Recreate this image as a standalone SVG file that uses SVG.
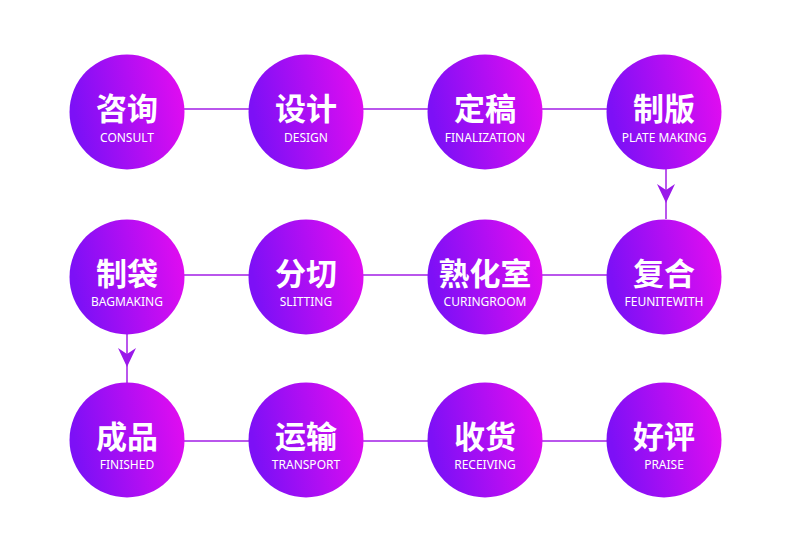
<svg xmlns="http://www.w3.org/2000/svg" width="790" height="547" viewBox="0 0 790 547">
<defs>
<linearGradient id="g" x1="0" y1="0.3" x2="1" y2="0.1">
<stop offset="0" stop-color="#7d10f6"/>
<stop offset="1" stop-color="#e60cf0"/>
</linearGradient>
<style>
.c{fill:url(#g)}
.cn{font-family:"Noto Sans CJK SC",sans-serif;font-weight:700;font-size:31px;fill:#fff;text-anchor:middle}
.en{font-family:"Noto Sans","Open Sans",sans-serif;font-size:12px;fill:#fff;text-anchor:middle}
.ln{stroke:#a21ee6;stroke-width:1.5;fill:none}
.ah{fill:#9a18ea}
</style>
</defs>
<rect width="790" height="547" fill="#fff"/>
<g id="connectors">
<line class="ln" x1="180" y1="109" x2="255" y2="109"/>
<line class="ln" x1="360" y1="109" x2="430" y2="109"/>
<line class="ln" x1="540" y1="109" x2="610" y2="109"/>
<line class="ln" x1="666" y1="168" x2="666" y2="219"/>
<path class="ah" d="M657,184 L666,190 L675,184 L666,203 Z"/>
<line class="ln" x1="180" y1="275" x2="255" y2="275"/>
<line class="ln" x1="360" y1="275" x2="430" y2="275"/>
<line class="ln" x1="540" y1="275" x2="610" y2="275"/>
<line class="ln" x1="127" y1="333" x2="127" y2="383"/>
<path class="ah" d="M118,348 L127,354 L136,348 L127,367 Z"/>
<line class="ln" x1="180" y1="441" x2="255" y2="441"/>
<line class="ln" x1="360" y1="441" x2="430" y2="441"/>
<line class="ln" x1="540" y1="441" x2="610" y2="441"/>
</g>
<g id="n1"><circle class="c" cx="127" cy="112" r="57.5"/><text class="cn" x="127" y="120">咨询</text><text class="en" x="127" y="142">CONSULT</text></g>
<g id="n2"><circle class="c" cx="306" cy="112" r="57.5"/><text class="cn" x="306" y="120">设计</text><text class="en" x="306" y="142">DESIGN</text></g>
<g id="n3"><circle class="c" cx="485" cy="112" r="57.5"/><text class="cn" x="485" y="120">定稿</text><text class="en" x="485" y="142">FINALIZATION</text></g>
<g id="n4"><circle class="c" cx="664" cy="112" r="57.5"/><text class="cn" x="664" y="120">制版</text><text class="en" x="664" y="142">PLATE MAKING</text></g>
<g id="n5"><circle class="c" cx="127" cy="277" r="57.5"/><text class="cn" x="127" y="285">制袋</text><text class="en" x="127" y="306">BAGMAKING</text></g>
<g id="n6"><circle class="c" cx="306" cy="277" r="57.5"/><text class="cn" x="306" y="285">分切</text><text class="en" x="306" y="306">SLITTING</text></g>
<g id="n7"><circle class="c" cx="485" cy="277" r="57.5"/><text class="cn" x="485" y="285">熟化室</text><text class="en" x="485" y="306">CURINGROOM</text></g>
<g id="n8"><circle class="c" cx="664" cy="277" r="57.5"/><text class="cn" x="664" y="285">复合</text><text class="en" x="664" y="306">FEUNITEWITH</text></g>
<g id="n9"><circle class="c" cx="127" cy="440" r="57.5"/><text class="cn" x="127" y="448">成品</text><text class="en" x="127" y="469">FINISHED</text></g>
<g id="n10"><circle class="c" cx="306" cy="440" r="57.5"/><text class="cn" x="306" y="448">运输</text><text class="en" x="306" y="469">TRANSPORT</text></g>
<g id="n11"><circle class="c" cx="485" cy="440" r="57.5"/><text class="cn" x="485" y="448">收货</text><text class="en" x="485" y="469">RECEIVING</text></g>
<g id="n12"><circle class="c" cx="664" cy="440" r="57.5"/><text class="cn" x="664" y="448">好评</text><text class="en" x="664" y="469">PRAISE</text></g>
</svg>
